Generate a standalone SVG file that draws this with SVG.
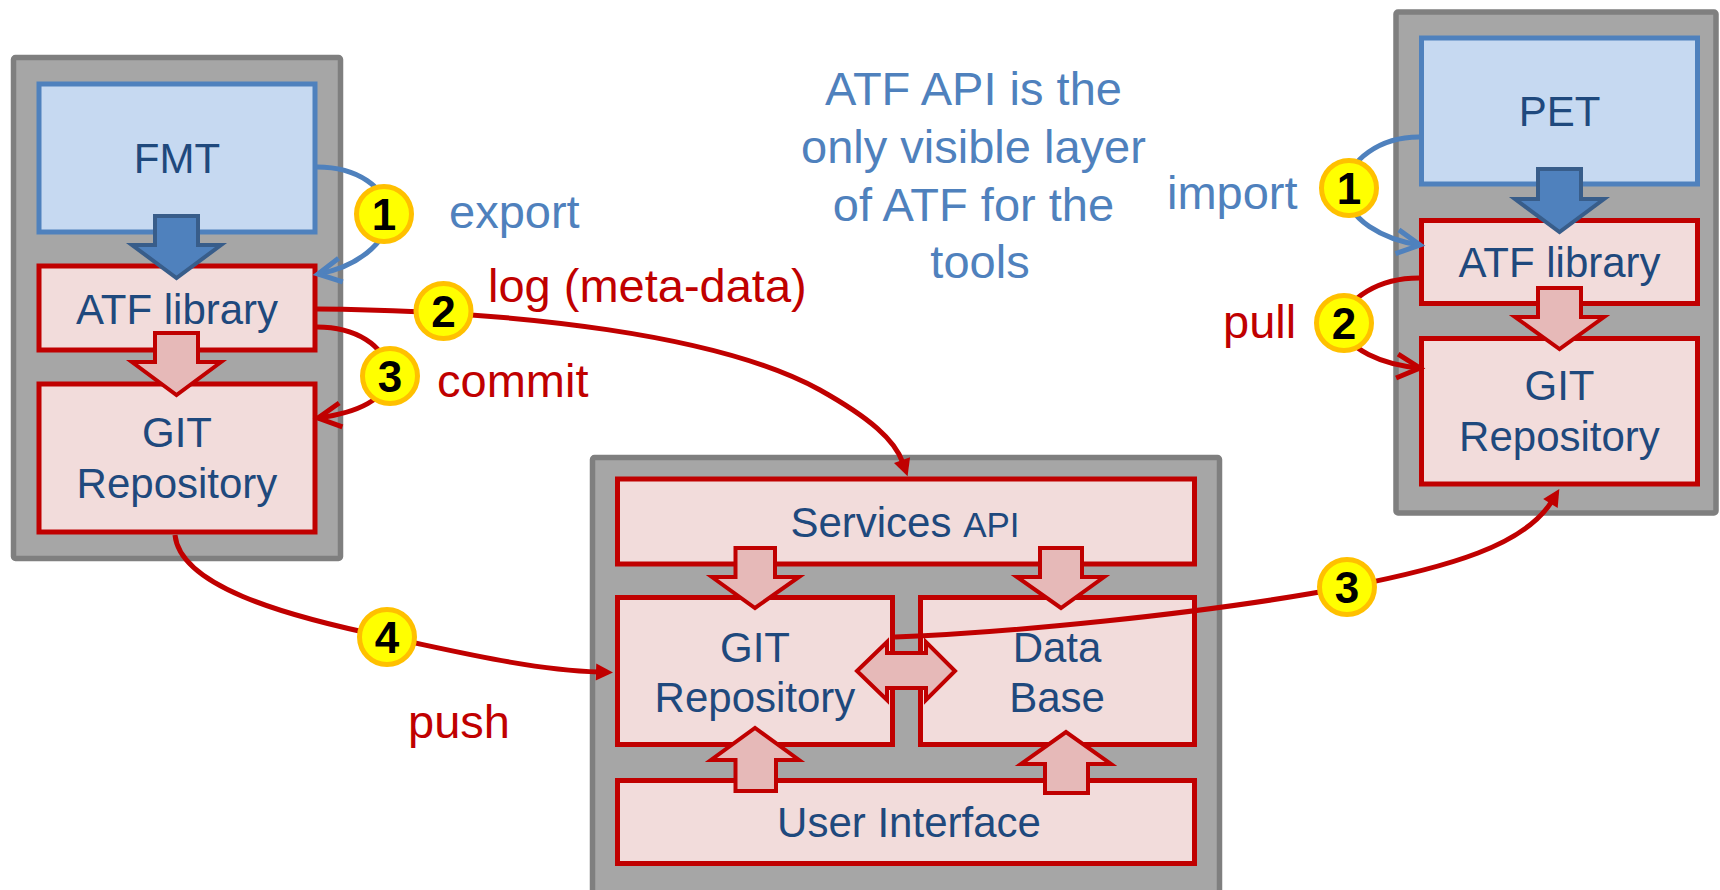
<svg xmlns="http://www.w3.org/2000/svg" width="1720" height="890" viewBox="0 0 1720 890">
  <defs>
    <style>
      .container { fill: #a6a6a6; stroke: #7f7f7f; stroke-width: 5.5; }
      .tool { fill: #c6d9f1; stroke: #4f81bd; stroke-width: 5; }
      .atf { fill: #f2dcdb; stroke: #c00000; stroke-width: 5; }
      .ntext { font-family: "Liberation Sans", Arial, sans-serif; font-size: 42px; fill: #1f497d; text-anchor: middle; }
      .blk-blue { fill: #4f81bd; stroke: #385d8a; stroke-width: 4; }
      .blk-red { fill: #e6b9b8; stroke: #c00000; stroke-width: 4; }
      .link-blue { fill: none; stroke: #4f81bd; stroke-width: 5; }
      .link-red { fill: none; stroke: #c00000; stroke-width: 5; }
      .badge circle { fill: #ffff00; stroke: #ffc000; stroke-width: 5; }
      .badge text { font-family: "Liberation Sans", Arial, sans-serif; font-weight: bold; font-size: 44px; fill: #000; text-anchor: middle; }
      .lbl { font-family: "Liberation Sans", Arial, sans-serif; font-size: 47px; }
      .lbl-blue { fill: #4f81bd; }
      .lbl-red { fill: #c00000; }
    </style>
    <marker id="open-blue" markerUnits="userSpaceOnUse" orient="auto" overflow="visible" refX="0" refY="0" markerWidth="30" markerHeight="30">
      <path d="M-23,-12 L0,0 L-23,12" fill="none" stroke="#4f81bd" stroke-width="5"/>
    </marker>
    <marker id="open-red" markerUnits="userSpaceOnUse" orient="auto" overflow="visible" refX="0" refY="0" markerWidth="30" markerHeight="30">
      <path d="M-23,-12 L0,0 L-23,12" fill="none" stroke="#c00000" stroke-width="5"/>
    </marker>
    <marker id="solid-red" markerUnits="userSpaceOnUse" orient="auto" overflow="visible" refX="0" refY="0" markerWidth="30" markerHeight="30">
      <path d="M-3,-8.5 L14,0 L-3,8.5 Z" fill="#c00000"/>
    </marker>
  </defs>

  <rect width="1720" height="890" fill="#ffffff"/>

  <!-- FMT tool stack -->
  <g id="fmt-stack">
    <rect class="container" x="13.5" y="57.5" width="327" height="501" rx="2"/>
    <g id="fmt">
      <rect class="tool" x="39" y="84" width="276" height="148"/>
      <text class="ntext" x="177" y="173">FMT</text>
    </g>
    <g id="fmt-atf">
      <rect class="atf" x="39" y="266" width="276" height="84"/>
      <text class="ntext" x="177" y="324">ATF library</text>
    </g>
    <g id="fmt-git">
      <rect class="atf" x="39" y="384" width="276" height="148"/>
      <text class="ntext" x="177" y="447">GIT</text>
      <text class="ntext" x="177" y="498">Repository</text>
    </g>
    <polygon class="blk-blue" points="155,216 198,216 198,245 221,245 176.5,278 132,245 155,245"/>
    <polygon class="blk-red" points="155,333 198,333 198,362 221,362 176.5,395 132,362 155,362"/>
  </g>

  <!-- PET tool stack -->
  <g id="pet-stack">
    <rect class="container" x="1396" y="12" width="320" height="501" rx="2"/>
    <g id="pet">
      <rect class="tool" x="1421.5" y="38" width="276" height="146"/>
      <text class="ntext" x="1559.5" y="126">PET</text>
    </g>
    <g id="pet-atf">
      <rect class="atf" x="1421.5" y="220.5" width="276" height="83"/>
      <text class="ntext" x="1559.5" y="277">ATF library</text>
    </g>
    <g id="pet-git">
      <rect class="atf" x="1421.5" y="338.5" width="276" height="145.5"/>
      <text class="ntext" x="1559.5" y="400">GIT</text>
      <text class="ntext" x="1559.5" y="451">Repository</text>
    </g>
    <polygon class="blk-blue" points="1538,169 1581,169 1581,199 1604,199 1559.5,232 1515,199 1538,199"/>
    <polygon class="blk-red" points="1538,288 1581,288 1581,317 1604,317 1559.5,349 1515,317 1538,317"/>
  </g>

  <!-- Central server -->
  <g id="server">
    <rect class="container" x="592.5" y="457.5" width="627" height="450" rx="2"/>
    <g id="services-api">
      <rect class="atf" x="617.5" y="479" width="577" height="85"/>
      <text class="ntext" x="905" y="537">Services <tspan font-size="35">API</tspan></text>
    </g>
    <g id="server-git">
      <rect class="atf" x="617.5" y="597.5" width="275" height="147"/>
      <text class="ntext" x="755" y="662">GIT</text>
      <text class="ntext" x="755" y="712">Repository</text>
    </g>
    <g id="database">
      <rect class="atf" x="920.5" y="597.5" width="274" height="147"/>
      <text class="ntext" x="1057" y="662">Data</text>
      <text class="ntext" x="1057" y="712">Base</text>
    </g>
    <g id="user-interface">
      <rect class="atf" x="617.5" y="780.5" width="577" height="83"/>
      <text class="ntext" x="909" y="837">User Interface</text>
    </g>
    <!-- internal flows -->
    <polygon class="blk-red" points="735.5,548 775,548 775,577 799,577 755,608 712,577 735.5,577"/>
    <polygon class="blk-red" points="1040,548 1082,548 1082,577 1104,577 1061,608 1017,577 1040,577"/>
    <polygon class="blk-red" points="735.5,791 776,791 776,760 799,760 755,728 711,760 735.5,760"/>
    <polygon class="blk-red" points="1045,793 1088,793 1088,764 1111,764 1066,732 1021,764 1045,764"/>
    <polygon class="blk-red" points="857,671 887,642 887,653 926,653 926,642 955,671 926,700 926,688 887,688 887,700"/>
  </g>

  <!-- connectors -->
  <g id="connectors">
    <path id="export" class="link-blue" d="M317,167 C358,167 386,188 388,213 C390,245 352,268 318,274" marker-end="url(#open-blue)"/>
    <path id="log" class="link-red" d="M317,309 C520,311 720,335 820,390 C870,418 895,440 903,463" marker-end="url(#solid-red)"/>
    <path id="commit" class="link-red" d="M317,327 C355,327 385,345 388,372 C390,400 355,413 318,418" marker-end="url(#open-red)"/>
    <path id="push" class="link-red" d="M175,535 C180,585 280,615 387,637 C450,650 530,670 599,672" marker-end="url(#solid-red)"/>
    <path id="import" class="link-blue" d="M1419,137 C1380,137 1348,160 1346,188 C1345,220 1385,240 1420,245" marker-end="url(#open-blue)"/>
    <path id="pull" class="link-red" d="M1419,278 C1380,278 1345,298 1344,323 C1343,350 1385,365 1420,368" marker-end="url(#open-red)"/>
    <path id="sync" class="link-red" d="M895,637 C1000,633 1200,615 1347,587 C1450,567 1525,545 1552,501" marker-end="url(#solid-red)"/>
  </g>

  <!-- step badges -->
  <g id="badges" class="badge">
    <g><circle cx="384" cy="214" r="27.5"/><text x="384" y="230">1</text></g>
    <g><circle cx="443.5" cy="311" r="27.5"/><text x="443.5" y="327">2</text></g>
    <g><circle cx="390" cy="376" r="27.5"/><text x="390" y="392">3</text></g>
    <g><circle cx="387" cy="637" r="27.5"/><text x="387" y="653">4</text></g>
    <g><circle cx="1349" cy="188" r="27.5"/><text x="1349" y="204">1</text></g>
    <g><circle cx="1344" cy="323" r="27.5"/><text x="1344" y="339">2</text></g>
    <g><circle cx="1347" cy="587" r="27.5"/><text x="1347" y="603">3</text></g>
  </g>

  <!-- labels -->
  <g id="labels" class="lbl">
    <text class="lbl-blue" x="449" y="228">export</text>
    <text class="lbl-red" x="488" y="302">log (meta-data)</text>
    <text class="lbl-red" x="437" y="397">commit</text>
    <text class="lbl-red" x="408" y="738">push</text>
    <text class="lbl-blue" x="1167" y="209">import</text>
    <text class="lbl-red" x="1223" y="338">pull</text>
    <text class="lbl-blue" text-anchor="middle">
      <tspan x="980" y="105">ATF API is the</tspan>
      <tspan x="980" y="163">only visible layer</tspan>
      <tspan x="980" y="221">of ATF for the</tspan>
      <tspan x="980" y="278">tools</tspan>
    </text>
  </g>
</svg>
